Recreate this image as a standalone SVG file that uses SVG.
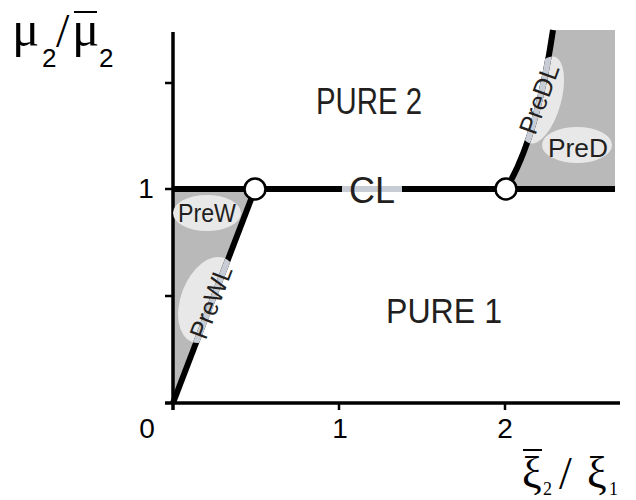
<svg xmlns="http://www.w3.org/2000/svg" width="636" height="500" viewBox="0 0 636 500">
<style>
.lbl{font-family:"Liberation Sans",Arial,sans-serif;fill:#231f20}
.tick{font-family:"Liberation Sans",Arial,sans-serif;font-size:28px;fill:#000;text-anchor:middle}
.greek{font-family:"Liberation Serif","Times New Roman",serif;fill:#000}
.sub{font-family:"Liberation Sans",Arial,sans-serif;fill:#000}
.axis{stroke:#000;stroke-width:3.5;fill:none}
.tk{stroke:#000;stroke-width:2.5}
.thick{stroke:#000;stroke-width:6;fill:none}
.light{stroke:#c8cdd5;stroke-width:6;fill:none}
.ell{fill:#e8e8e9}
.gray{fill:#b9b9b9}
.pt{fill:#fff;stroke:#000;stroke-width:2.5}
</style>
<defs>
<clipPath id="cTri"><polygon points="173,189 255,189 173,403"/></clipPath>
<clipPath id="cRight"><path d="M506,189 Q537,138 553,30 L615,30 L615,189 Z"/></clipPath>
<clipPath id="cWL"><ellipse cx="0" cy="0" rx="45" ry="27" transform="translate(208,300) rotate(-69)"/></clipPath>
<clipPath id="cDL"><ellipse cx="0" cy="0" rx="45" ry="19" transform="translate(542,100) rotate(-74)"/></clipPath>
</defs>
<rect width="636" height="500" fill="#fff"/>

<g id="regions">
<polygon class="gray" points="173,189 255,189 173,403"/>
<path class="gray" d="M506,189 Q537,138 553,30 L615,30 L615,189 Z"/>
</g>

<g id="axes">
<line class="axis" x1="173" y1="32" x2="173" y2="410"/>
<line class="axis" x1="165" y1="403" x2="620" y2="403"/>
<line class="tk" x1="165" y1="83" x2="173" y2="83"/>
<line class="tk" x1="165" y1="189" x2="173" y2="189"/>
<line class="tk" x1="165" y1="296" x2="173" y2="296"/>
<line class="tk" x1="339" y1="403" x2="339" y2="410"/>
<line class="tk" x1="505" y1="403" x2="505" y2="410"/>
</g>

<g id="PreW"><ellipse class="ell" cx="207" cy="213" rx="34" ry="18"/>
<text class="lbl" x="207" y="222" font-size="26" text-anchor="middle" textLength="58" lengthAdjust="spacingAndGlyphs">PreW</text></g>
<g id="PreD"><ellipse class="ell" cx="577" cy="145" rx="35" ry="18"/>
<text class="lbl" x="578" y="157" font-size="26" text-anchor="middle" textLength="60" lengthAdjust="spacingAndGlyphs">PreD</text></g>
<g id="PreWL-bg" clip-path="url(#cTri)"><ellipse class="ell" cx="0" cy="0" rx="45" ry="27" transform="translate(208,300) rotate(-69)"/></g>
<g id="PreDL-bg" clip-path="url(#cRight)"><ellipse class="ell" cx="0" cy="0" rx="45" ry="19" transform="translate(542,100) rotate(-74)"/></g>

<g id="connectors">
<line class="thick" x1="173" y1="189" x2="615" y2="189"/>
<line class="thick" x1="173" y1="403" x2="255" y2="189"/>
<path class="thick" d="M506,189 Q537,138 553,30"/>
<line class="light" x1="342" y1="189" x2="402" y2="189"/>
<g clip-path="url(#cWL)"><line class="light" x1="173" y1="403" x2="255" y2="189"/></g>
<g clip-path="url(#cDL)"><path class="light" d="M506,189 Q537,138 553,30"/></g>
</g>

<g id="PreWL"><text class="lbl" font-size="26" text-anchor="middle" transform="translate(211,302) rotate(-69)" y="9" textLength="76" lengthAdjust="spacingAndGlyphs">PreWL</text></g>
<g id="PreDL"><text class="lbl" font-size="26" text-anchor="middle" transform="translate(539,99) rotate(-70)" y="9" textLength="72" lengthAdjust="spacingAndGlyphs">PreDL</text></g>

<g id="points">
<circle class="pt" cx="255" cy="189" r="10.5"/>
<circle class="pt" cx="506" cy="189" r="10.5"/>
</g>

<g id="CL"><text class="lbl" x="372" y="203" font-size="36" text-anchor="middle">CL</text></g>
<g id="PURE2"><text class="lbl" x="316" y="114" font-size="36" textLength="106" lengthAdjust="spacingAndGlyphs">PURE 2</text></g>
<g id="PURE1"><text class="lbl" x="386" y="323" font-size="35" textLength="116" lengthAdjust="spacingAndGlyphs">PURE 1</text></g>

<g id="ticklabels">
<text class="tick" x="147" y="438">0</text>
<text class="tick" x="340" y="438">1</text>
<text class="tick" x="505" y="438">2</text>
<text class="tick" x="146" y="198">1</text>
</g>

<g id="ylabel">
<text class="greek" x="12" y="46" font-size="51">μ</text>
<text class="sub" x="42" y="67" font-size="26">2</text>
<text class="greek" x="56" y="47" font-size="48">/</text>
<text class="greek" x="72" y="46" font-size="51">μ</text>
<line x1="74" y1="12" x2="97" y2="12" stroke="#000" stroke-width="2"/>
<text class="sub" x="99" y="67" font-size="26">2</text>
</g>

<g id="xlabel">
<text class="greek" x="522" y="487" font-size="44">ξ</text>
<line x1="523" y1="450" x2="542" y2="450" stroke="#000" stroke-width="2"/>
<text class="greek" x="543" y="495" font-size="18">2</text>
<text class="greek" x="559" y="489" font-size="46">/</text>
<text class="greek" x="587" y="487" font-size="44">ξ</text>
<text class="greek" x="609" y="495" font-size="18">1</text>
</g>
</svg>
